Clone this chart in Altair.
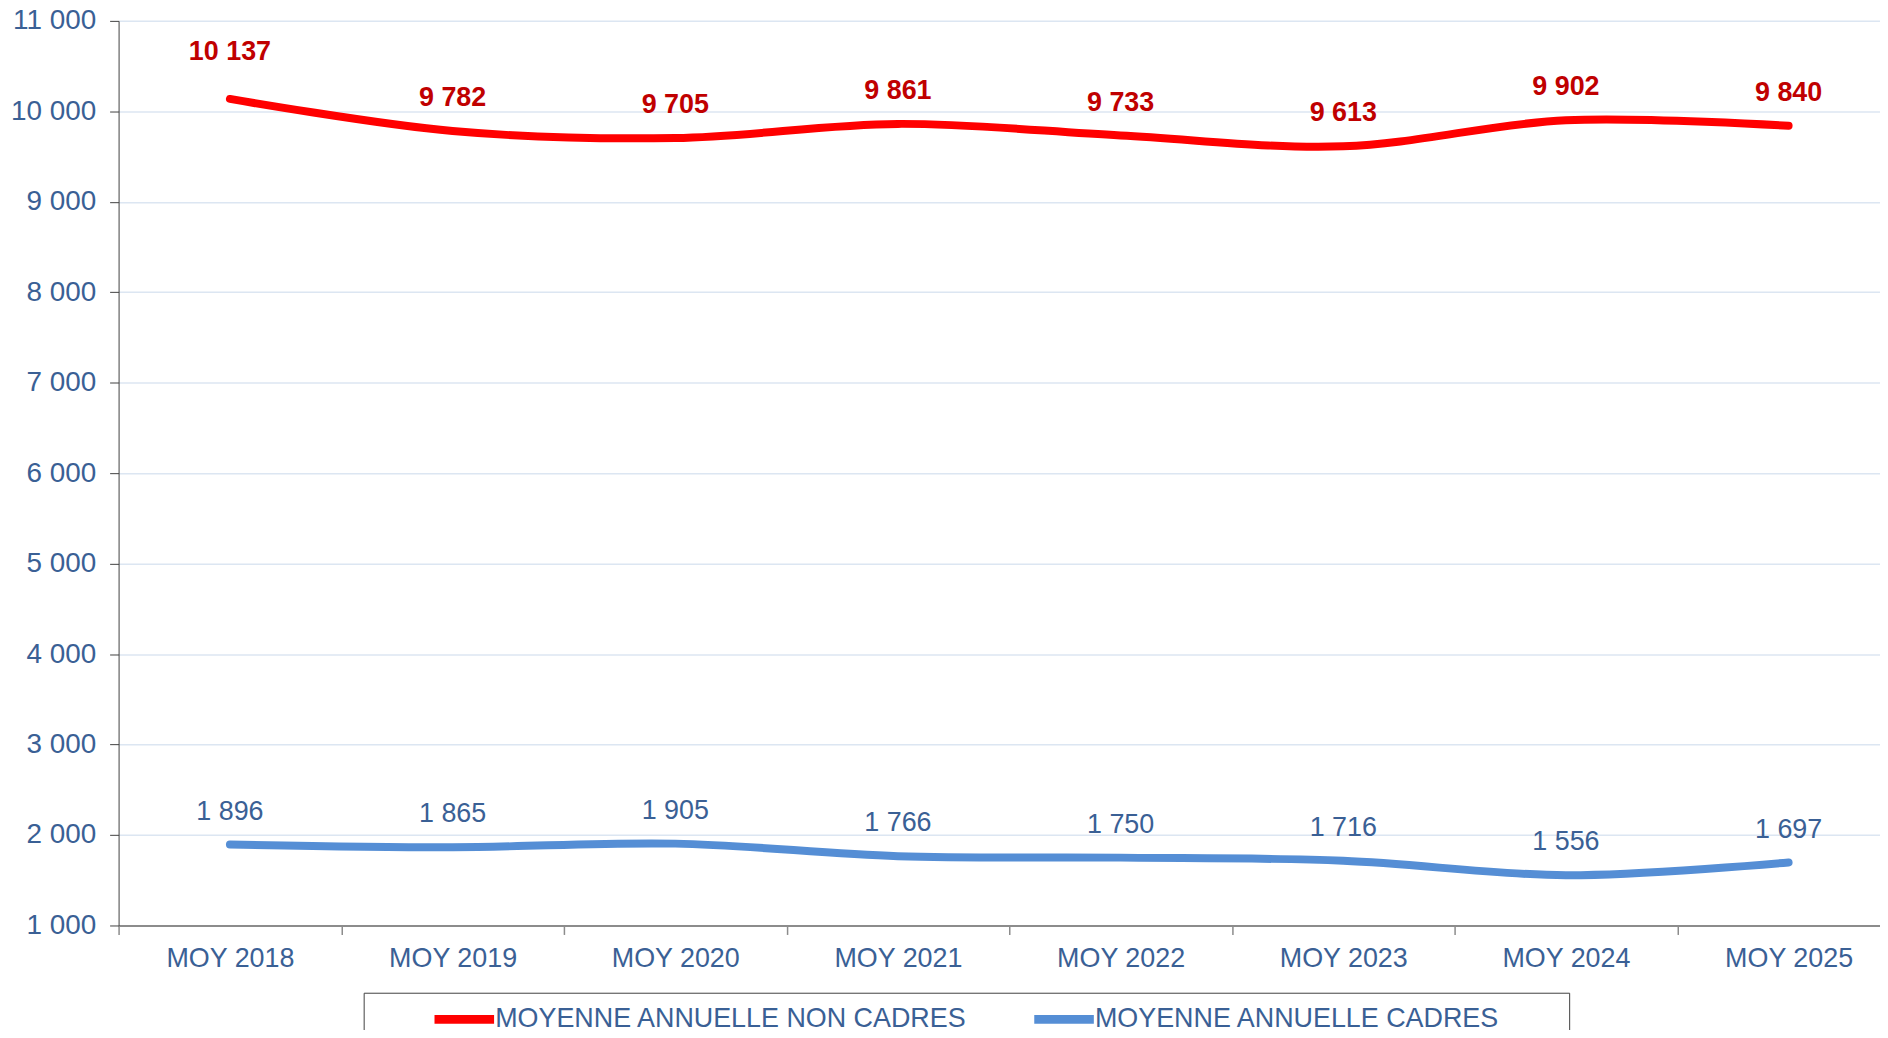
import altair as alt
import pandas as pd

categories = ["MOY 2018", "MOY 2019", "MOY 2020", "MOY 2021", "MOY 2022", "MOY 2023", "MOY 2024", "MOY 2025"]
non_cadres = [10137, 9782, 9705, 9861, 9733, 9613, 9902, 9840]
cadres = [1896, 1865, 1905, 1766, 1750, 1716, 1556, 1697]
series_names = ["MOYENNE ANNUELLE NON CADRES", "MOYENNE ANNUELLE CADRES"]
y_ticks = [1000, 2000, 3000, 4000, 5000, 6000, 7000, 8000, 9000, 10000, 11000]

rows = []
for c, v in zip(categories, non_cadres):
    rows.append({"cat": c, "val": v, "series": series_names[0]})
for c, v in zip(categories, cadres):
    rows.append({"cat": c, "val": v, "series": series_names[1]})
df = pd.DataFrame(rows)

FONT = "Liberation Sans, Arial, sans-serif"
TXT = "#3A6095"

x_enc = alt.X("cat:N", sort=categories, title=None,
              scale=alt.Scale(range=[0, 1788]),
              axis=alt.Axis(labelAngle=0, tickBand="extent", grid=False,
                            labelFontSize=27, labelColor=TXT, labelFont=FONT,
                            domainColor="#8C8C8C", domainWidth=2,
                            tickColor="#8C8C8C", tickWidth=1.5, tickSize=9,
                            labelPadding=11))
y_enc = alt.Y("val:Q", title=None,
              scale=alt.Scale(domain=[1000, 11000], nice=False, zero=False),
              axis=alt.Axis(values=y_ticks, grid=True, gridColor="#DCE6F2", gridWidth=1.5,
                            labelFontSize=28, labelColor=TXT, labelFont=FONT,
                            labelExpr="replace(format(datum.value, ','), ',', ' ')",
                            domainColor="#404040", domainWidth=1,
                            tickColor="#404040", tickSize=9, labelPadding=14))

base = alt.Chart(df).encode(x=x_enc, y=y_enc)

blank = "\u2800" * 3
legend_label_expr = "indexof(datum.label, 'NON') < 0 ? datum.label + '" + blank + "' : datum.label"

lines = base.mark_line(interpolate="cardinal", strokeWidth=8, strokeCap="round").encode(
    color=alt.Color("series:N", sort=series_names,
                    scale=alt.Scale(domain=series_names, range=["#FF0000", "#558ED5"]),
                    legend=alt.Legend(title=None, orient="none", legendX=246, legendY=975.5,
                                      direction="horizontal", symbolType="M-2.3,0H2.3",
                                      symbolStrokeWidth=9, symbolSize=676,
                                      labelFontSize=27, labelFont=FONT, labelColor=TXT,
                                      labelOffset=13.5, columnPadding=4, padding=9,
                                      symbolOffset=74.5, strokeColor="#404040",
                                      labelLimit=900, labelExpr=legend_label_expr))
)

lab = base.transform_calculate(
    lbl="replace(format(datum.val, ','), ',', ' ')"
)

red_first = lab.transform_filter(
    (alt.datum.series == series_names[0]) & (alt.datum.cat == categories[0])
).mark_text(dy=-47, fontSize=27, fontWeight="bold", font=FONT, color="#C00000").encode(text="lbl:N")

red_rest = lab.transform_filter(
    (alt.datum.series == series_names[0]) & (alt.datum.cat != categories[0])
).mark_text(dy=-33, fontSize=27, fontWeight="bold", font=FONT, color="#C00000").encode(text="lbl:N")

blue_lbl = lab.transform_filter(
    alt.datum.series == series_names[1]
).mark_text(dy=-33, fontSize=27, font=FONT, color=TXT).encode(text="lbl:N")

chart = alt.layer(lines, red_first, red_rest, blue_lbl).properties(
    width=1768, height=908,
    autosize=alt.AutoSizeParams(type="none"),
    padding={"left": 111, "top": 11, "right": 0, "bottom": 103},
    background="white",
).configure_view(stroke=None)

chart.save("out.html", embed_options={"renderer": "svg", "actions": False})
